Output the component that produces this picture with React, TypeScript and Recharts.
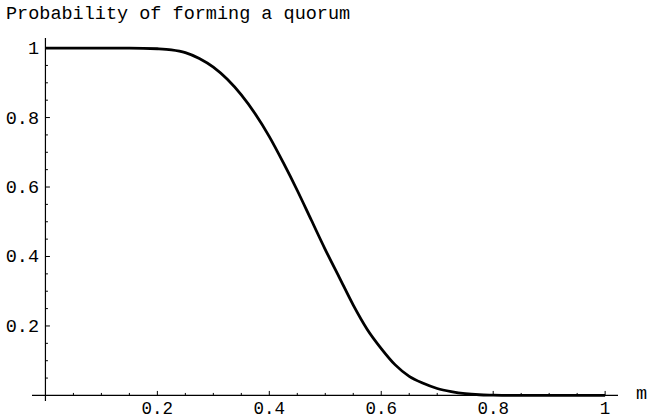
import React from "react";
import { LineChart, Line, XAxis, YAxis, ReferenceLine } from "recharts";

// m values and the probability
const M = [
  0, 0.05, 0.1, 0.15, 0.2, 0.225, 0.25, 0.275, 0.3, 0.325, 0.35, 0.375, 0.4,
  0.425, 0.45, 0.475, 0.5, 0.525, 0.55, 0.575, 0.6, 0.625, 0.65, 0.675, 0.7,
  0.725, 0.75, 0.775, 0.8, 0.85, 0.9, 0.95, 1,
];
const P = [
  1, 1, 1, 1, 0.998, 0.995, 0.987, 0.97, 0.945, 0.91, 0.865, 0.81, 0.745,
  0.67, 0.59, 0.505, 0.42, 0.34, 0.26, 0.19, 0.135, 0.088, 0.055, 0.035, 0.02,
  0.011, 0.005, 0.002, 0.001, 0, 0, 0, 0,
];

const X_TICKS = [0.2, 0.4, 0.6, 0.8, 1];
const X_LABELS = ["0.2", "0.4", "0.6", "0.8", "1"];
const Y_TICKS = [0.2, 0.4, 0.6, 0.8, 1];
const Y_LABELS = ["0.2", "0.4", "0.6", "0.8", "1"];
const MINOR = [
  0.05, 0.1, 0.15, 0.25, 0.3, 0.35, 0.45, 0.5, 0.55, 0.65, 0.7, 0.75, 0.85,
  0.9, 0.95,
];

const data = M.map((m, i) => ({ m, p: P[i] }));

const FONT = '"Liberation Mono", "Courier New", monospace';
const FS = 18.5;
const W = 649;
const H = 418;
// pixels per data unit, used to convert tick lengths
const PX_X = 559.7;
const PX_Y = 347.5;

function XTick(props: any) {
  const { x, y, payload } = props;
  const i = X_TICKS.findIndex((t) => Math.abs(t - payload.value) < 1e-9);
  return (
    <text x={x} y={y + 12.5} textAnchor="middle" fontFamily={FONT} fontSize={17.5} fill="#000">
      {X_LABELS[i]}
    </text>
  );
}

function YTick(props: any) {
  const { x, y, payload } = props;
  const i = Y_TICKS.findIndex((t) => Math.abs(t - payload.value) < 1e-9);
  return (
    <text x={x + 7} y={y + 6} textAnchor="end" fontFamily={FONT} fontSize={FS} fill="#000">
      {Y_LABELS[i]}
    </text>
  );
}

export default function App() {
  const xTick = (v: number, len: number) => (
    <ReferenceLine
      key={"x" + v}
      segment={[{ x: v, y: 0 }, { x: v, y: len / PX_Y }]}
      stroke="#000"
      strokeWidth={1}
      ifOverflow="visible"
    />
  );
  const yTick = (v: number, len: number) => (
    <ReferenceLine
      key={"y" + v}
      segment={[{ x: 0, y: v }, { x: len / PX_X, y: v }]}
      stroke="#000"
      strokeWidth={1}
      ifOverflow="visible"
    />
  );

  return (
    <div style={{ position: "absolute", left: 0, top: 0, width: W, height: H, background: "#fff" }}>
      <LineChart width={W} height={H} data={data} margin={{ top: 38, right: 31, bottom: 0, left: 0 }}>
        <XAxis
          dataKey="m"
          type="number"
          domain={[-0.024, 1.023]}
          allowDataOverflow
          ticks={X_TICKS}
          interval={0}
          axisLine={false}
          tickLine={false}
          tickSize={0}
          tickMargin={0}
          height={17}
          tick={<XTick />}
        />
        <YAxis
          type="number"
          domain={[-0.016, 1.029]}
          allowDataOverflow
          ticks={Y_TICKS}
          interval={0}
          axisLine={false}
          tickLine={false}
          tickSize={0}
          tickMargin={0}
          width={32}
          tick={<YTick />}
        />
        <ReferenceLine y={0} stroke="#000" strokeWidth={1.2} />
        <ReferenceLine x={0} stroke="#000" strokeWidth={1.2} />
        {X_TICKS.map((v) => xTick(v, 4.5))}
        {MINOR.map((v) => xTick(v, 2.5))}
        {Y_TICKS.map((v) => yTick(v, 4.5))}
        {MINOR.map((v) => yTick(v, 2.5))}
        <Line
          type="monotone"
          dataKey="p"
          stroke="#000"
          strokeWidth={2.8}
          dot={false}
          activeDot={false}
          isAnimationActive={false}
        />
      </LineChart>
      <svg
        width={W}
        height={H}
        style={{ position: "absolute", left: 0, top: 0, pointerEvents: "none" }}
      >
        <text x={6} y={19} fontFamily={FONT} fontSize={FS} fill="#000">
          Probability of forming a quorum
        </text>
        <text x={636} y={399} fontFamily={FONT} fontSize={FS} fill="#000">
          m
        </text>
      </svg>
    </div>
  );
}
